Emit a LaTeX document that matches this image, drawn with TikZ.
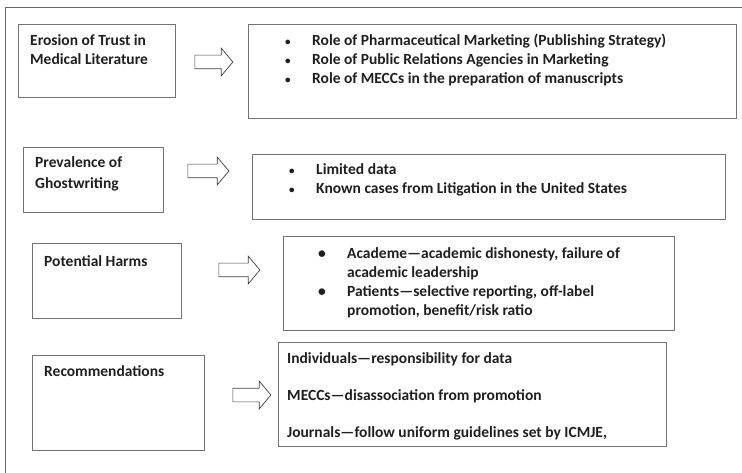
\documentclass[tikz,border=0pt]{standalone}
\usepackage{fontspec}
\setmainfont{Carlito}
\usetikzlibrary{shapes.arrows}

\newcommand\itm{\makebox[27pt][l]{\fontsize{11}{19}\selectfont\textbullet}}
\newcommand\bigitm{\makebox[29pt][l]{\textbullet}}

\begin{document}
\begin{tikzpicture}[x=1pt,y=-1pt,
  box/.style={draw=black!55, line width=0.8pt, anchor=north west, inner sep=0pt},
  hollow/.style={draw=black!75, line width=0.7pt, shape=single arrow,
    single arrow head extend=7pt, single arrow tip angle=100,
    minimum height=38pt, inner xsep=0pt, inner ysep=6.5pt},
  txt/.style={anchor=base west, inner sep=0pt, align=left, text=black!88,
    font=\fontsize{15.5}{19}\selectfont\bfseries}]
\useasboundingbox (0,0) rectangle (742,473);
% outer frame, cut off at right and bottom
\draw[black!60, line width=0.8pt] (5,480) -- (5,7) -- (750,7);

% row 1 (text nodes sit on the baseline of their last line)
\node[box, minimum width=157, minimum height=73] (erosion) at (18,24) {};
\node[txt] (erosiontxt) at (30,65) {Erosion of Trust in\\Medical Literature};
\node[hollow] (arr1) at (211,62) {};
\node[box, minimum width=488, minimum height=94] (roles) at (248,24) {};
\node[txt] (rolestxt) at (285,84) {\itm Role of Pharmaceutical Marketing (Publishing Strategy)\\
  \itm Role of Public Relations Agencies in Marketing\\
  \itm Role of MECCs in the preparation of manuscripts};

% row 2
\node[box, minimum width=140, minimum height=65] (prevalence) at (23,147) {};
\node[txt] (prevalencetxt) at (35,189) {Prevalence of\\[2pt]Ghostwriting};
\node[hollow, minimum height=41pt] (arr2) at (205.5,171) {};
\node[box, minimum width=473, minimum height=65] (data) at (252,154) {};
\node[txt] (datatxt) at (289,194) {\itm Limited data\\
  \itm Known cases from Litigation in the United States};

% row 3
\node[box, minimum width=149, minimum height=75] (harms) at (32,243) {};
\node[txt] (harmstxt) at (44,266) {Potential Harms};
\node[hollow, minimum height=41pt] (arr3) at (236.5,270) {};
\node[box, minimum width=391, minimum height=94] (effects) at (283,236) {};
\node[txt] (effectstxt) at (318,316) {\bigitm Academe—academic dishonesty, failure of\\
  \hspace*{29pt}academic leadership\\
  \bigitm Patients—selective reporting, off-label\\
  \hspace*{29pt}promotion, benefit/risk ratio};

% row 4
\node[box, minimum width=172, minimum height=95] (recomm) at (32,355) {};
\node[txt] (recommtxt) at (44,376) {Recommendations};
\node[hollow] (arr4) at (249,395) {};
\node[box, minimum width=388, minimum height=104] (remedies) at (278,342) {};
\node[txt] (remediestxt) at (287,437) {Individuals—responsibility for data\\[18pt]
  MECCs—disassociation from promotion\\[18pt]
  Journals—follow uniform guidelines set by ICMJE,};
\end{tikzpicture}
\end{document}
